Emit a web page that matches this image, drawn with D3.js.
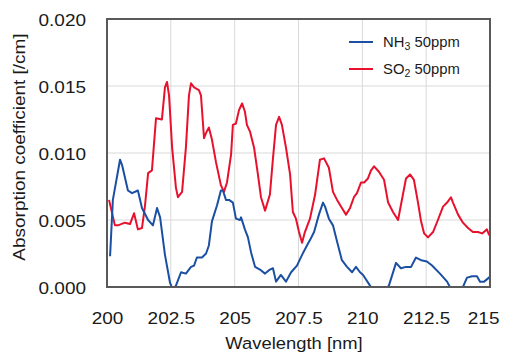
<!DOCTYPE html>
<html><head><meta charset="utf-8">
<script src="https://cdn.jsdelivr.net/npm/d3@7"></script>
<style>
body{margin:0;background:#fff}
text{font-family:"Liberation Sans",Arial,Helvetica,sans-serif;fill:#1a1a1a}
</style>
</head><body>
<svg id="chart" width="508" height="356"></svg>
<script>
// ---------- data ----------
const xTicks = [200, 202.5, 205, 207.5, 210, 212.5, 215];
const xTickLabels = ["200", "202.5", "205", "207.5", "210", "212.5", "215"];
const yTicks = [0, 0.005, 0.010, 0.015, 0.020];
const yTickLabels = ["0.000", "0.005", "0.010", "0.015", "0.020"];
const xTitle = "Wavelength [nm]";
const yTitle = "Absorption coefficient [/cm]";

const nh3Wavelength = [200.12,200.23,200.51,200.59,200.82,200.98,201.21,201.37,201.61,201.80,201.96,202.08,202.27,202.47,202.58,202.70,202.90,203.09,203.29,203.41,203.52,203.72,203.88,203.99,204.11,204.31,204.46,204.54,204.66,204.78,204.93,205.05,205.21,205.25,205.40,205.52,205.64,205.80,205.99,206.19,206.38,206.50,206.62,206.81,207.01,207.21,207.44,207.64,207.83,207.95,208.11,208.30,208.46,208.54,208.69,208.85,209.01,209.20,209.40,209.60,209.75,209.91,210.03,210.30,210.50,210.77,211.04,211.32,211.51,211.71,211.91,212.10,212.30,212.53,212.73,213.04,213.32,213.43,213.67,213.94,214.10,214.30,214.49,214.61,214.77,214.96,215.05];
const nh3Values = [0.0023,0.0065,0.0095,0.0091,0.0072,0.0070,0.0072,0.0059,0.0050,0.0046,0.0059,0.0052,0.0024,0.0003,-0.0002,0.0001,0.0011,0.0010,0.0015,0.0016,0.0022,0.0022,0.0025,0.0031,0.0049,0.0061,0.0072,0.0072,0.0065,0.0065,0.0063,0.0051,0.0050,0.0052,0.0043,0.0037,0.0026,0.0015,0.0013,0.0010,0.0013,0.0014,0.0004,0.0009,0.0004,0.0011,0.0016,0.0024,0.0031,0.0035,0.0041,0.0054,0.0063,0.0060,0.0051,0.0046,0.0034,0.0020,0.0015,0.0011,0.0015,0.0011,0.0009,0.0001,-0.0004,-0.0004,0.0001,0.0018,0.0014,0.0015,0.0015,0.0022,0.0020,0.0019,0.0016,0.0010,0.0004,0.0000,-0.0004,0.0000,0.0007,0.0008,0.0008,0.0004,0.0004,0.0007,0.0009];

const so2Wavelength = [200.08,200.31,200.43,200.70,200.90,201.06,201.21,201.37,201.49,201.61,201.76,201.92,202.15,202.27,202.35,202.43,202.55,202.70,202.78,202.94,203.09,203.21,203.29,203.41,203.60,203.68,203.80,203.88,203.99,204.11,204.27,204.46,204.58,204.70,204.86,204.93,205.05,205.17,205.29,205.40,205.48,205.60,205.76,205.91,206.03,206.19,206.38,206.50,206.62,206.74,206.85,207.01,207.17,207.28,207.40,207.52,207.64,207.75,207.95,208.15,208.34,208.50,208.69,208.85,209.01,209.20,209.36,209.52,209.67,209.79,209.95,210.07,210.22,210.34,210.46,210.65,210.85,211.01,211.20,211.40,211.59,211.71,211.87,212.02,212.18,212.30,212.42,212.57,212.77,212.96,213.16,213.32,213.47,213.55,213.75,213.94,214.14,214.33,214.53,214.69,214.88,214.96,215.05];
const so2Values = [0.0065,0.0046,0.0046,0.0048,0.0047,0.0055,0.0043,0.0044,0.0061,0.0085,0.0087,0.0126,0.0125,0.0149,0.0153,0.0143,0.0104,0.0074,0.0067,0.0071,0.0104,0.0143,0.0152,0.0149,0.0147,0.0143,0.0111,0.0115,0.0119,0.0110,0.0093,0.0076,0.0071,0.0078,0.0099,0.0121,0.0122,0.0132,0.0137,0.0131,0.0121,0.0116,0.0104,0.0084,0.0067,0.0057,0.0069,0.0096,0.0121,0.0127,0.0121,0.0104,0.0084,0.0056,0.0051,0.0041,0.0033,0.0041,0.0051,0.0069,0.0095,0.0096,0.0089,0.0071,0.0065,0.0059,0.0054,0.0059,0.0067,0.0070,0.0078,0.0078,0.0081,0.0087,0.0090,0.0086,0.0080,0.0063,0.0056,0.0050,0.0069,0.0081,0.0084,0.0080,0.0063,0.0049,0.0040,0.0037,0.0041,0.0050,0.0060,0.0063,0.0067,0.0063,0.0054,0.0048,0.0044,0.0041,0.0041,0.0040,0.0043,0.0039,0.0040];

const seriesNames = ["NH", "SO"];
const seriesSubs = ["3", "2"];
const seriesSuffix = [" 50ppm", " 50ppm"];
const seriesColors = ["#1b4fa3", "#e8112d"];

// ---------- layout ----------
const W = 508, H = 356;
const margin = {left: 107, right: 18, top: 19, bottom: 69};
const iw = W - margin.left - margin.right;
const ih = H - margin.top - margin.bottom;
const STRETCH = 1.15;

const svg = d3.select("#chart");
const g = svg.append("g").attr("transform", `translate(${margin.left},${margin.top})`);

const x = d3.scaleLinear().domain([200, 215]).range([0, iw]);
const y = d3.scaleLinear().domain([0, 0.02]).range([ih, 0]);

// grid
g.append("g").selectAll("line").data(xTicks.slice(1, -1)).join("line")
  .attr("x1", d => x(d)).attr("x2", d => x(d)).attr("y1", 0).attr("y2", ih)
  .attr("stroke", "#d9d9d9").attr("stroke-width", 1);
g.append("g").selectAll("line").data(yTicks.slice(1, -1)).join("line")
  .attr("y1", d => y(d)).attr("y2", d => y(d)).attr("x1", 0).attr("x2", iw)
  .attr("stroke", "#d9d9d9").attr("stroke-width", 1);

// axes
const xAxis = d3.axisBottom(x).tickValues(xTicks).tickSize(0).tickPadding(25)
  .tickFormat((d, i) => xTickLabels[i]);
const gx = g.append("g").attr("transform", `translate(0,${ih})`).call(xAxis);
gx.select(".domain").remove();
gx.selectAll("text").attr("font-size", 16.5).attr("fill", "#1a1a1a")
  .attr("font-family", '"Liberation Sans",Arial,sans-serif')
  .attr("transform", `scale(${STRETCH},1)`)
  .attr("dx", (d, i) => i === xTicks.length - 1 ? -6 : 0);

const yAxis = d3.axisLeft(y).tickValues(yTicks).tickSize(0).tickPadding(21 / STRETCH)
  .tickFormat((d, i) => yTickLabels[i]);
const gy = g.append("g").call(yAxis);
gy.select(".domain").remove();
gy.selectAll("text").attr("font-size", 16.5).attr("fill", "#1a1a1a")
  .attr("font-family", '"Liberation Sans",Arial,sans-serif')
  .attr("transform", `scale(${STRETCH},1)`)
  .attr("dy", "0.4em");

// clip
svg.append("clipPath").attr("id", "plotclip").append("rect")
  .attr("x", 0).attr("y", 0).attr("width", iw).attr("height", ih);

const line = d3.line().x(d => x(d[0])).y(d => y(d[1])).curve(d3.curveLinear);
const nh3 = nh3Wavelength.map((w, i) => [w, nh3Values[i]]);
const so2 = so2Wavelength.map((w, i) => [w, so2Values[i]]);

const lines = g.append("g").attr("clip-path", "url(#plotclip)");
lines.append("path").datum(so2).attr("d", line).attr("fill", "none")
  .attr("stroke", seriesColors[1]).attr("stroke-width", 2).attr("stroke-linejoin", "round");
lines.append("path").datum(nh3).attr("d", line).attr("fill", "none")
  .attr("stroke", seriesColors[0]).attr("stroke-width", 2).attr("stroke-linejoin", "round");

// frame
g.append("rect").attr("x", 0).attr("y", 0).attr("width", iw).attr("height", ih)
  .attr("fill", "none").attr("stroke", "#595959").attr("stroke-width", 2);

// axis titles
svg.append("text").attr("transform", `translate(294,349) scale(${STRETCH * 0.97},1)`)
  .attr("text-anchor", "middle").attr("font-size", 16.5).text(xTitle);
svg.append("text").attr("transform", `translate(25,147) rotate(-90) scale(${STRETCH},1)`)
  .attr("text-anchor", "middle").attr("font-size", 16.5).text(yTitle);

// legend
const legend = svg.append("g");
[0, 1].forEach(i => {
  const ly = 42 + i * 27;
  legend.append("line").attr("x1", 349).attr("x2", 373).attr("y1", ly).attr("y2", ly)
    .attr("stroke", seriesColors[i]).attr("stroke-width", 2);
  const t = legend.append("text").attr("transform", `translate(383,${ly + 5}) scale(1.06,1)`)
    .attr("font-size", 14);
  t.append("tspan").text(seriesNames[i]);
  t.append("tspan").attr("font-size", 10).attr("dy", 3).text(seriesSubs[i]);
  t.append("tspan").attr("dy", -3).text(seriesSuffix[i]);
});
</script>
</body></html>
